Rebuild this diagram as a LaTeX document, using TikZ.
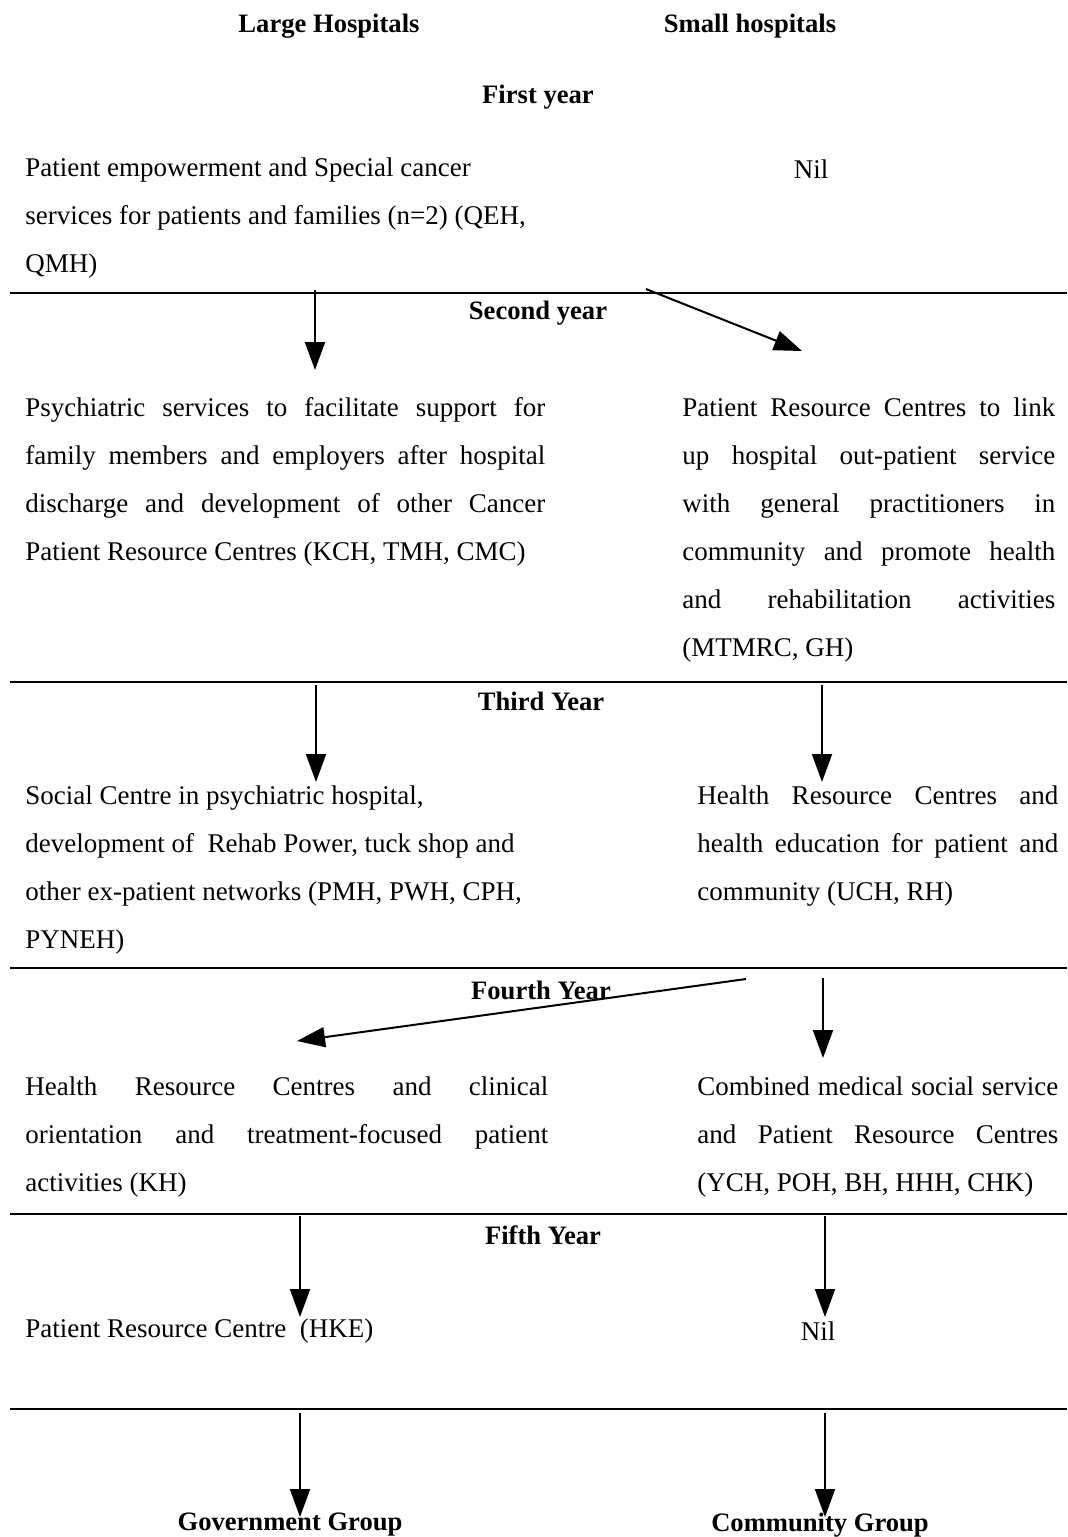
\documentclass[tikz,border=0pt]{standalone}
\usepackage{fontspec}
\setmainfont{Liberation Serif}
\usetikzlibrary{arrows.meta}
\begin{document}
\begin{tikzpicture}[x=0.5pt,y=-0.5pt,
  txt/.style={font=\fontsize{13.5}{24}\selectfont, inner sep=0pt},
  head/.style={font=\fontsize{13.3}{24}\selectfont\bfseries, inner sep=0pt},
  block/.style={txt, anchor=north west, align=justify, text width=#1},
  rule/.style={line width=1pt},
  flow/.style={line width=1pt, -{Triangle[width=10pt,length=14pt]}}]
\useasboundingbox (0,0) rectangle (1067,1537);

% column headings
\node[head] (large) at (329,26) {Large Hospitals};
\node[head] (small) at (750,26) {Small hospitals};

% first year
\node[head] (y1) at (538,97) {First year};
\node[block=270pt] (b1l) at (25,157) {Patient empowerment and Special cancer\\ services for patients and families (n=2) (QEH,\\ QMH)};
\node[txt] (b1r) at (811,169) {Nil};

% second year
\draw[rule] (10,293) -- (1067,293);
\node[head] (y2) at (538,313) {Second year};
\node[block=260pt] (b2l) at (25,397) {\parfillskip=0pt
Psychiatric services to facilitate support for\par
family members and employers after hospital\par
discharge and development of other Cancer\par
\parfillskip=0pt plus 1fil Patient Resource Centres (KCH, TMH, CMC)\par};
\node[block=186.5pt] (b2r) at (682,397) {\parfillskip=0pt
Patient Resource Centres to link\par
up hospital out-patient service\par
with general practitioners in\par
community and promote health\par
and rehabilitation activities\par
\parfillskip=0pt plus 1fil (MTMRC, GH)\par};

% third year
\draw[rule] (10,682) -- (1067,682);
\node[head] (y3) at (541,701) {Third Year};
\node[block=275pt] (b3l) at (25,785) {Social Centre in psychiatric hospital,\\
development of\ \ Rehab Power, tuck shop and\\
other ex-patient networks (PMH, PWH, CPH,\\
PYNEH)};
\node[block=180.5pt] (b3r) at (697,785) {\parfillskip=0pt
Health Resource Centres and\par
health education for patient and\par
\parfillskip=0pt plus 1fil community (UCH, RH)\par};

% fourth year
\draw[rule] (10,968) -- (1067,968);
\node[head] (y4) at (541,990) {Fourth Year};
\node[block=261.5pt] (b4l) at (25,1076) {\parfillskip=0pt
Health Resource Centres and clinical\par
orientation and treatment-focused patient\par
\parfillskip=0pt plus 1fil activities (KH)\par};
\node[block=180.5pt] (b4r) at (697,1076) {\parfillskip=0pt
Combined medical social service\par
and Patient Resource Centres\par
\parfillskip=0pt plus 1fil (YCH, POH, BH, HHH, CHK)\par};

% fifth year
\draw[rule] (10,1214) -- (1067,1214);
\node[head] (y5) at (543,1235) {Fifth Year};
\node[txt, anchor=west] (b5l) at (25,1331) {Patient Resource Centre\ \ (HKE)};
\node[txt] (b5r) at (818,1331) {Nil};

% outcome groups
\draw[rule] (10,1409) -- (1067,1409);
\node[head] (gov) at (290,1525) {Government Group};
\node[head] (com) at (820,1525) {Community Group};

% transition arrows
\coordinate (a1s) at (315,290);  \coordinate (a1e) at (315,370);
\coordinate (a2s) at (646,289);  \coordinate (a2e) at (802,351);
\coordinate (a3s) at (316,685);  \coordinate (a3e) at (316,782);
\coordinate (a4s) at (822,685);  \coordinate (a4e) at (822,782);
\coordinate (a5s) at (746,979);  \coordinate (a5e) at (297,1041);
\coordinate (a6s) at (823,978);  \coordinate (a6e) at (823,1058);
\coordinate (a7s) at (300,1216); \coordinate (a7e) at (300,1317);
\coordinate (a8s) at (825,1216); \coordinate (a8e) at (825,1317);
\coordinate (a9s) at (300,1413); \coordinate (a9e) at (300,1517);
\coordinate (a10s) at (825,1413); \coordinate (a10e) at (825,1517);
\foreach \i in {1,...,10} \draw[flow] (a\i s) -- (a\i e);
\end{tikzpicture}
\end{document}
